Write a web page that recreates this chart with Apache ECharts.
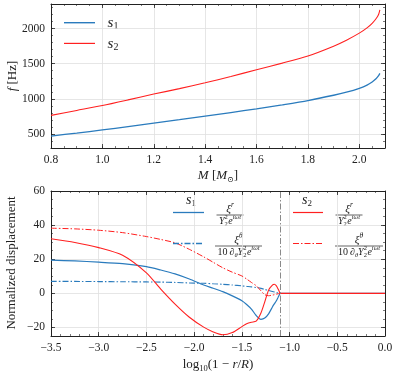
<!DOCTYPE html>
<html><head><meta charset="utf-8">
<script src="https://cdn.jsdelivr.net/npm/echarts@6/dist/echarts.min.js"></script>
<style>html,body{margin:0;padding:0;background:#fff}#c{width:396px;height:376px}</style>
</head><body><div id="c"></div><script>
// ---------- data ----------
const massM   = [0.8, 0.9, 1.0, 1.1, 1.2, 1.3, 1.4, 1.5, 1.6, 1.7, 1.8, 1.9, 1.95, 2.0, 2.03, 2.05, 2.065, 2.075, 2.08];
const freqS1  = [470, 512, 557, 605, 655, 703, 754, 805, 858, 915, 976, 1051, 1095, 1150, 1195, 1240, 1285, 1330, 1363];
const freqS2  = [765, 835, 905, 985, 1068, 1145, 1228, 1318, 1415, 1508, 1610, 1750, 1835, 1935, 2010, 2075, 2140, 2200, 2265];

const logDepth = [-3.5, -3.25, -3.0, -2.75, -2.5, -2.35, -2.2, -2.05, -1.9, -1.8, -1.7, -1.6, -1.5, -1.45, -1.4, -1.35, -1.3, -1.26, -1.22, -1.18, -1.16, -1.14, -1.12, -1.1];
const xiR_s1  = [19.5, 19.0, 18.3, 17.4, 15.7, 13.7, 11.4, 8.4, 4.9, 3.0, 1.0, -1.5, -4.3, -6.5, -9.2, -13.0, -15.2, -14.5, -12.0, -8.0, -6.2, -4.5, -2.3, 0];
const xiT_s1  = [7.0, 7.0, 6.9, 6.8, 6.7, 6.6, 6.4, 6.1, 5.9, 5.6, 5.3, 4.9, 4.4, 4.1, 3.8, 3.4, 2.9, 2.3, 1.7, 1.1, 0.8, 0.5, 0.25, 0];
const xiR_s2  = [32.0, 29.8, 26.8, 22.3, 12.0, 2.5, -6.3, -14.0, -19.8, -22.6, -24.3, -23.0, -19.5, -17.8, -16.9, -16.3, -11.5, -5.0, 1.9, 4.8, 5.3, 4.5, 2.5, 0];
const xiT_s2  = [38.2, 37.8, 37.0, 35.6, 33.3, 31.6, 29.6, 25.8, 21.4, 18.2, 15.0, 12.4, 10.2, 8.4, 6.4, 4.5, 1.5, -0.8, -1.4, -1.0, -0.8, -0.5, -0.25, 0];
const surfaceDepth = [-1.1, 0.0];
const surfaceValue = [0, 0];
const boundaryX = -1.1;

const topXTicks = [0.8, 1.0, 1.2, 1.4, 1.6, 1.8, 2.0];
const topYTicks = [500, 1000, 1500, 2000];
const botXTicks = [-3.5, -3.0, -2.5, -2.0, -1.5, -1.0, -0.5, 0.0];
const botYTicks = [-20, 0, 20, 40, 60];

// ---------- helpers ----------
const FONT = '"Liberation Serif", "DejaVu Serif", serif';
const INK = '#222';
const BLUE = '#2a7bbd';
const RED = '#ff2020';
const DASHDOT = [6, 2, 1.5, 2];
const mctx = document.createElement('canvas').getContext('2d');
function tw(t, s, it) { mctx.font = (it ? 'italic ' : '') + s + 'px ' + FONT; return mctx.measureText(t).width; }
function mathRow(parts, cx, cy, rotation) {
  let x = 0, lastStart = 0, lastW = 0; const placed = [];
  parts.forEach(p => {
    const w = tw(p.t, p.s, p.it);
    let px;
    if (p.stack) { px = lastStart; lastW = Math.max(lastW, w); x = lastStart + lastW; }
    else { px = x + (p.pad || 0); lastStart = px; lastW = w; x = px + w; }
    placed.push({ p, px });
  });
  const x0 = -x / 2;
  return {
    type: 'group', x: cx, y: cy, rotation: rotation || 0, silent: true,
    children: placed.map(({ p, px }) => ({
      type: 'text', x: x0 + px, y: (p.dy || 0),
      style: { text: p.t, font: (p.it ? 'italic ' : '') + p.s + 'px ' + FONT, fill: INK, textAlign: 'left', textVerticalAlign: 'middle' }
    }))
  };
}
function fraction(num, den, cx, barY, halfW) {
  return [
    mathRow(num, cx, barY - 6),
    { type: 'line', silent: true, shape: { x1: cx - halfW, y1: barY, x2: cx + halfW, y2: barY }, style: { stroke: INK, lineWidth: 0.7 } },
    mathRow(den, cx, barY + 6)
  ];
}
function legendLine(x1, x2, y, color, width, dash) {
  return { type: 'line', silent: true, z: 10, shape: { x1, y1: y, x2, y2: y },
    style: Object.assign({ stroke: color, lineWidth: width, lineCap: 'butt' }, dash ? { lineDash: dash.slice() } : {}) };
}
function fmtNum(v, d) { const s = v.toFixed(d); return s.replace('-', '\u2212'); }

function axisSet(kind, gi, min, max, minor, majors, fmt) {
  const sides = kind === 'x' ? ['bottom', 'top'] : ['left', 'right'];
  const out = [];
  sides.forEach((pos, si) => {
    out.push({
      gridIndex: gi, type: 'value', position: pos, min, max, interval: minor,
      axisLine: { show: true, onZero: false, lineStyle: { color: INK, width: 1 } },
      axisTick: { show: true, inside: true, length: 4, customValues: majors, lineStyle: { color: INK, width: 0.8 } },
      axisLabel: si === 0 ? { show: true, customValues: majors, formatter: fmt, margin: 6, fontFamily: FONT, fontSize: 11.5, color: INK } : { show: false },
      splitLine: { show: si === 0, lineStyle: { color: '#dfdfdf', width: 0.8 } }
    });
    out.push({
      gridIndex: gi, type: 'value', position: pos, min, max, interval: minor,
      axisLine: { show: false, onZero: false },
      axisTick: { show: true, inside: true, length: 2, lineStyle: { color: INK, width: 0.6 } },
      axisLabel: { show: false }, splitLine: { show: false }
    });
  });
  return out;
}

const xAxes = [].concat(
  axisSet('x', 0, 0.8, 2.1, 0.05, topXTicks, v => v.toFixed(1)),
  axisSet('x', 1, -3.5, 0.0, 0.1, botXTicks, v => fmtNum(v, 1))
);
const yAxes = [].concat(
  axisSet('y', 0, 300, 2350, 100, topYTicks, v => String(Math.round(v))),
  axisSet('y', 1, -25, 60, 5, botYTicks, v => fmtNum(v, 0))
);

function zipXY(xs, ys) { return xs.map((x, i) => [x, ys[i]]); }
function lineSeries(name, xi, yi, xs, ys, color, type, width, extra) {
  return Object.assign({
    name, type: 'line', xAxisIndex: xi, yAxisIndex: yi, data: zipXY(xs, ys),
    showSymbol: false, smooth: 0.25, clip: true, silent: true,
    lineStyle: { color, width, type: Array.isArray(type) ? type.slice() : (type || 'solid') }
  }, extra || {});
}

const series = [
  lineSeries('s1', 0, 0, massM, freqS1, BLUE, 'solid', 1.3),
  lineSeries('s2', 0, 0, massM, freqS2, RED, 'solid', 1.1),
  lineSeries('s1 xi_r tail', 4, 4, surfaceDepth, surfaceValue, BLUE, 'solid', 1.2, { smooth: false }),
  lineSeries('s1 xi_r', 4, 4, logDepth, xiR_s1, BLUE, 'solid', 1.2, {
    markLine: { silent: true, symbol: 'none', label: { show: false }, lineStyle: { color: '#8a8a8a', width: 1, type: DASHDOT.slice() }, data: [{ xAxis: boundaryX }] }
  }),
  lineSeries('s1 xi_theta', 4, 4, logDepth, xiT_s1, BLUE, DASHDOT, 1.1),
  lineSeries('s2 xi_r', 4, 4, logDepth, xiR_s2, RED, 'solid', 1.1),
  lineSeries('s2 xi_r tail', 4, 4, surfaceDepth, surfaceValue, RED, 'solid', 1.2, { smooth: false }),
  lineSeries('s2 xi_theta', 4, 4, logDepth, xiT_s2, RED, DASHDOT, 1.0)
];

// ---------- legends & axis names (text) ----------
const I = (t, s, o) => Object.assign({ t, s, it: true }, o || {});
const R = (t, s, o) => Object.assign({ t, s, it: false }, o || {});
const numR = [I('\u03be', 11), R('r', 7.5, { it: true, dy: -4 })];
const denR = [I('Y', 10), R('2', 6.5, { dy: -3.5 }), R('2', 6.5, { dy: 3, stack: true }), I('e', 10, { pad: 0.5 }), I('i\u03c9t', 6.5, { dy: -3.5 })];
const numT = [I('\u03be', 11), I('\u03b8', 7.5, { dy: -4 })];
const denT = [R('10', 10), I('\u2202', 10, { pad: 2 }), I('\u03b8', 6.5, { dy: 3 }), I('Y', 10), R('2', 6.5, { dy: -3.5 }), R('2', 6.5, { dy: 3, stack: true }), I('e', 10, { pad: 0.5 }), I('i\u03c9t', 6.5, { dy: -3.5 })];

const graphics = [
  // top legend
  legendLine(64, 95, 22.7, BLUE, 1.4),
  legendLine(64, 95, 43.4, RED, 1.2),
  mathRow([I('s', 15), R('1', 10, { dy: 3.5 })], 113, 23),
  mathRow([I('s', 15), R('2', 10, { dy: 3.5 })], 113, 44),
  // top axis names
  mathRow([I('f', 13), R(' [Hz]', 13)], 13, 76, Math.PI / 2),
  mathRow([I('M', 13), R(' [', 13), I('M', 13), R('\u2299', 8, { dy: 3.5 }), R(']', 13)], 218, 176),
  // bottom axis names
  mathRow([R('Normalized displacement', 13)], 12, 263, Math.PI / 2),
  mathRow([R('log', 13), R('10', 8.5, { dy: 3.5 }), R('(1 \u2212 ', 13), I('r', 13), R('/', 13), I('R', 13), R(')', 13)], 218, 365),
  // bottom legend
  mathRow([I('s', 14), R('1', 9, { dy: 3.5 })], 191, 200),
  mathRow([I('s', 14), R('2', 9, { dy: 3.5 })], 307, 200),
  legendLine(173, 204, 212.5, BLUE, 1.3),
  legendLine(173, 204, 243.5, BLUE, 1.3, DASHDOT),
  legendLine(293, 323, 212.5, RED, 1.2),
  legendLine(293, 323, 243.5, RED, 1.2, DASHDOT)
].concat(
  fraction(numR, denR, 230, 215, 13.5),
  fraction(numT, denT, 238.5, 246, 23.5),
  fraction(numR, denR, 349, 215, 13.5),
  fraction(numT, denT, 359, 246, 24)
);

const chart = echarts.init(document.getElementById('c'), null, { renderer: 'canvas' });
chart.setOption({
  animation: false,
  backgroundColor: '#fff',
  grid: [
    { left: 51, right: 11, top: 4, height: 144, containLabel: false },
    { left: 51, right: 11, top: 191, height: 145, containLabel: false }
  ],
  xAxis: xAxes,
  yAxis: yAxes,
  series,
  graphic: { elements: graphics }
});
</script></body></html>
